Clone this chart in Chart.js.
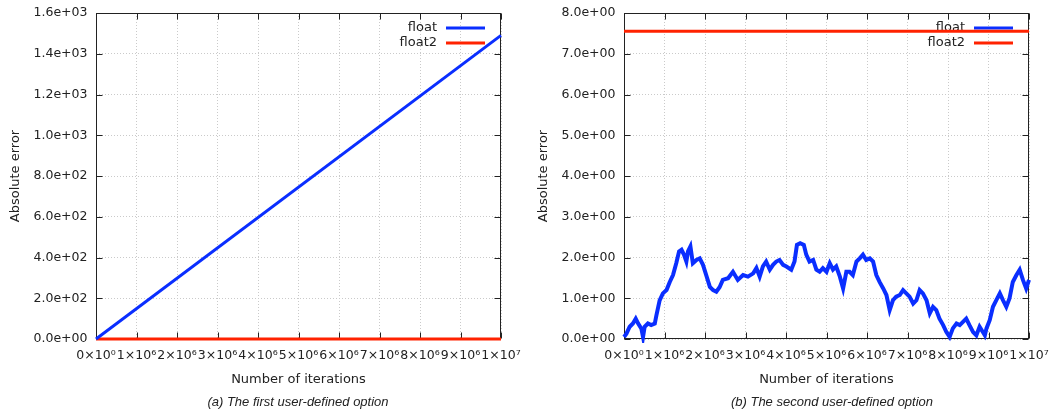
<!DOCTYPE html>
<html>
<head>
<meta charset="utf-8">
<title>Absolute error vs iterations</title>
<script src="https://cdn.jsdelivr.net/npm/chart.js@4.4.1/dist/chart.umd.min.js"></script>
<style>
  body { margin: 0; background: #fff; }
  #wrap { position: relative; width: 1057px; height: 413px; }
  .panel { position: absolute; top: 0; height: 413px; }
  .caption {
    position: absolute; top: 394px; line-height: 15px;
    font: italic 13px "Liberation Sans", Arial, sans-serif; color: #222;
    transform: translateX(-50%); white-space: nowrap;
  }
</style>
</head>
<body>
<div id="wrap">
  <div class="panel" style="left:0;width:528px"><canvas id="chartA"></canvas></div>
  <div class="panel" style="left:528px;width:529px"><canvas id="chartB"></canvas></div>
  <div class="caption" style="left:298px">(a) The first user-defined option</div>
  <div class="caption" style="left:832px">(b) The second user-defined option</div>
</div>
<script>
// x values are in millions of iterations
const xTickLabels = ['0×10⁰', '1×10⁶', '2×10⁶', '3×10⁶', '4×10⁶', '5×10⁶',
                     '6×10⁶', '7×10⁶', '8×10⁶', '9×10⁶', '1×10⁷'];
const yTickLabelsA = ['0.0e+00', '2.0e+02', '4.0e+02', '6.0e+02', '8.0e+02',
                      '1.0e+03', '1.2e+03', '1.4e+03', '1.6e+03'];
const yTickLabelsB = ['0.0e+00', '1.0e+00', '2.0e+00', '3.0e+00', '4.0e+00',
                      '5.0e+00', '6.0e+00', '7.0e+00', '8.0e+00'];

// option (a)
const iterA = [0, 10];
const floatA = [0, 1490];
const float2A = [0, 0];

// option (b)
const iterB = [0, 0.06, 0.14, 0.22, 0.29, 0.35, 0.43, 0.47, 0.51, 0.59, 0.67, 0.76, 0.80, 0.88,
  0.96, 1.05, 1.13, 1.21, 1.29, 1.36, 1.42, 1.48, 1.54, 1.58, 1.64, 1.70, 1.79, 1.87, 1.95,
  2.03, 2.12, 2.20, 2.28, 2.36, 2.44, 2.57, 2.69, 2.81, 2.94, 3.06, 3.19, 3.27, 3.35, 3.43,
  3.51, 3.60, 3.68, 3.76, 3.84, 3.93, 4.01, 4.13, 4.21, 4.27, 4.35, 4.44, 4.50, 4.58, 4.67,
  4.75, 4.83, 4.91, 5.00, 5.08, 5.16, 5.24, 5.33, 5.41, 5.49, 5.57, 5.65, 5.74, 5.82, 5.90,
  5.98, 6.07, 6.15, 6.23, 6.31, 6.40, 6.48, 6.56, 6.64, 6.72, 6.81, 6.89, 6.97, 7.05, 7.14,
  7.22, 7.30, 7.38, 7.47, 7.55, 7.63, 7.71, 7.79, 7.88, 7.96, 8.04, 8.12, 8.21, 8.29, 8.37,
  8.45, 8.53, 8.62, 8.70, 8.78, 8.86, 8.91, 8.95, 9.03, 9.11, 9.19, 9.28, 9.36, 9.44, 9.52,
  9.60, 9.69, 9.77, 9.85, 9.93, 10.0];
const floatB = [0.05, 0.13, 0.30, 0.38, 0.50, 0.38, 0.25, 0.05, 0.30, 0.38, 0.34, 0.38, 0.58, 0.95,
  1.12, 1.20, 1.40, 1.57, 1.86, 2.15, 2.19, 2.07, 1.90, 2.15, 2.27, 1.86, 1.94, 1.98, 1.82,
  1.57, 1.28, 1.20, 1.16, 1.27, 1.45, 1.49, 1.65, 1.45, 1.57, 1.53, 1.61, 1.74, 1.53, 1.78,
  1.90, 1.70, 1.82, 1.90, 1.94, 1.82, 1.78, 1.70, 1.90, 2.31, 2.35, 2.31, 2.07, 1.90, 1.94,
  1.70, 1.65, 1.74, 1.65, 1.86, 1.70, 1.78, 1.53, 1.24, 1.65, 1.65, 1.57, 1.90, 1.98, 2.07,
  1.94, 1.98, 1.90, 1.57, 1.40, 1.24, 1.08, 0.71, 0.95, 1.04, 1.08, 1.20, 1.12, 1.04, 0.87,
  0.95, 1.20, 1.12, 0.95, 0.63, 0.79, 0.71, 0.50, 0.34, 0.17, 0.05, 0.26, 0.38, 0.34, 0.42,
  0.50, 0.34, 0.17, 0.09, 0.30, 0.17, 0.09, 0.26, 0.46, 0.79, 0.95, 1.12, 0.95, 0.79, 1.00,
  1.40, 1.57, 1.70, 1.45, 1.24, 1.45];
const float2B = [7.55, 7.55];
const iterB2 = [0, 10];

const BLUE = '#0a2eff';
const RED = '#ff2200';

Chart.defaults.font.family = '"DejaVu Sans", sans-serif';
Chart.defaults.color = '#222';

// gnuplot-style frame with inward mirrored ticks, plus the key in the top-right corner
const frameAndKey = {
  id: 'frameAndKey',
  beforeDatasetsDraw(chart) {
    const { ctx, chartArea: a, scales: { x, y } } = chart;
    const L = Math.round(a.left) + 0.5, R = Math.round(a.right) - 0.5;
    const T = Math.round(a.top) + 0.5, B = Math.round(a.bottom) - 0.5;
    ctx.save();
    ctx.strokeStyle = '#222';
    ctx.lineWidth = 1;
    ctx.strokeRect(L, T, R - L, B - T);
    ctx.beginPath();
    x.ticks.forEach(t => {
      const px = Math.round(x.getPixelForValue(t.value)) + 0.5;
      ctx.moveTo(px, B); ctx.lineTo(px, B - 6);
      ctx.moveTo(px, T); ctx.lineTo(px, T + 6);
    });
    y.ticks.forEach(t => {
      const py = Math.round(y.getPixelForValue(t.value)) + 0.5;
      ctx.moveTo(L, py); ctx.lineTo(L + 6, py);
      ctx.moveTo(R, py); ctx.lineTo(R - 6, py);
    });
    ctx.stroke();

    ctx.font = '13px "DejaVu Sans", sans-serif';
    ctx.textAlign = 'right';
    ctx.textBaseline = 'middle';
    chart.data.datasets.forEach((ds, i) => {
      const ly = a.top + 15 + 15 * i;
      const x1 = a.right - 16, x0 = x1 - 39;
      ctx.fillStyle = '#222';
      ctx.fillText(ds.label, x0 - 9, ly);
      ctx.strokeStyle = ds.borderColor;
      ctx.lineWidth = 3;
      ctx.beginPath();
      ctx.moveTo(x0, ly); ctx.lineTo(x1, ly);
      ctx.stroke();
    });
    ctx.restore();
  }
};

function points(xs, ys) {
  return xs.map((v, i) => ({ x: v, y: ys[i] }));
}

// fixed axis boxes so the plot area sits where the layout padding puts it
function fixBox(size) {
  return s => {
    if (s.isHorizontal()) s.height = size; else s.width = size;
    s.paddingTop = 0; s.paddingBottom = 0; s.paddingLeft = 0; s.paddingRight = 0;
  };
}

function makePanel(canvasId, datasets, yMax, yStep, yLabels, rightPad) {
  new Chart(document.getElementById(canvasId), {
    type: 'line',
    data: { datasets },
    options: {
      responsive: true,
      maintainAspectRatio: false,
      animation: false,
      layout: { padding: { top: 13, right: rightPad, left: 0, bottom: 0 } },
      plugins: { legend: { display: false }, tooltip: { enabled: false } },
      elements: { point: { radius: 0 }, line: { tension: 0 } },
      scales: {
        x: {
          type: 'linear', min: 0, max: 10,
          ticks: {
            stepSize: 1, autoSkip: false, maxRotation: 0, minRotation: 0, padding: 9,
            font: { size: 12.5 }, color: '#222',
            callback: (v, i) => xTickLabels[i]
          },
          grid: { color: '#cacaca', lineWidth: 1, drawTicks: false },
          border: { display: false, dash: [1, 2] },
          title: { display: true, text: 'Number of iterations', font: { size: 13 }, color: '#222',
                   padding: { top: 0, bottom: 26 } },
          afterFit: fixBox(74)
        },
        y: {
          min: 0, max: yMax,
          ticks: {
            stepSize: yStep, padding: 8.5, font: { size: 12.5 }, color: '#222',
            callback: (v, i) => yLabels[i]
          },
          grid: { color: '#cacaca', lineWidth: 1, drawTicks: false },
          border: { display: false, dash: [1, 2] },
          title: { display: true, text: 'Absolute error', font: { size: 13 }, color: '#222',
                   padding: { top: 8, bottom: 0 } },
          afterFit: fixBox(96)
        }
      }
    },
    plugins: [frameAndKey]
  });
}

makePanel('chartA', [
  { label: 'float', data: points(iterA, floatA), borderColor: BLUE, borderWidth: 3, clip: 4 },
  { label: 'float2', data: points(iterA, float2A), borderColor: RED, borderWidth: 3, clip: 4 }
], 1600, 200, yTickLabelsA, 27);

makePanel('chartB', [
  { label: 'float', data: points(iterB, floatB), borderColor: BLUE, borderWidth: 4, clip: 4 },
  { label: 'float2', data: points(iterB2, float2B), borderColor: RED, borderWidth: 3, clip: 4 }
], 8, 1, yTickLabelsB, 28);
</script>
</body>
</html>
